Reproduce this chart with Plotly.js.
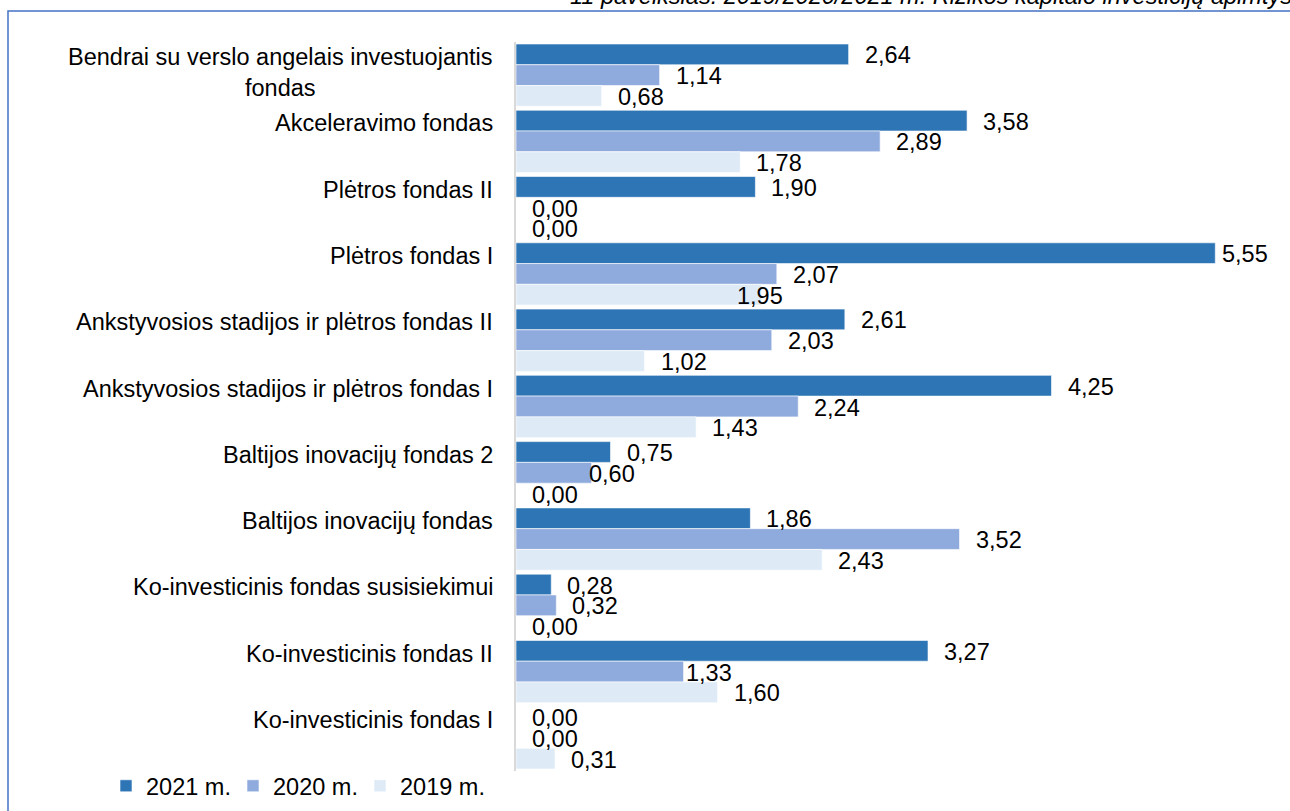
<!DOCTYPE html>
<html>
<head>
<meta charset="utf-8">
<script src="https://cdn.plot.ly/plotly-3.0.1.min.js"></script>
<style>
  html, body { margin: 0; padding: 0; background: #ffffff; }
  #chart { width: 1290px; height: 811px; }
</style>
</head>
<body>
<div id="chart"></div>
<script>
// ---- data ----
const categories = [
  "Bendrai su verslo angelais investuojantis fondas",
  "Akceleravimo fondas",
  "Plėtros fondas II",
  "Plėtros fondas I",
  "Ankstyvosios stadijos ir plėtros fondas II",
  "Ankstyvosios stadijos ir plėtros fondas I",
  "Baltijos inovacijų fondas 2",
  "Baltijos inovacijų fondas",
  "Ko-investicinis fondas susisiekimui",
  "Ko-investicinis fondas II",
  "Ko-investicinis fondas I"
];
const categoryLabels = [
  "Bendrai su verslo angelais investuojantis<br>fondas",
  "Akceleravimo fondas",
  "Plėtros fondas II",
  "Plėtros fondas I",
  "Ankstyvosios stadijos ir plėtros fondas II",
  "Ankstyvosios stadijos ir plėtros fondas I",
  "Baltijos inovacijų fondas 2",
  "Baltijos inovacijų fondas",
  "Ko-investicinis fondas susisiekimui",
  "Ko-investicinis fondas II",
  "Ko-investicinis fondas I"
];
const values2021 = [2.64, 3.58, 1.90, 5.55, 2.61, 4.25, 0.75, 1.86, 0.28, 3.27, 0.00];
const values2020 = [1.14, 2.89, 0.00, 2.07, 2.03, 2.24, 0.60, 3.52, 0.32, 1.33, 0.00];
const values2019 = [0.68, 1.78, 0.00, 1.95, 1.02, 1.43, 0.00, 2.43, 0.00, 1.60, 0.31];
const seriesNames = ["2021 m.", "2020 m.", "2019 m."];
const figureTitle = "11 paveikslas. 2019/2020/2021 m. Rizikos kapitalo investicijų apimtys";

// ---- styling / layout constants ----
const W = 1290, H = 811;
const M = { l: 516, r: 18, t: 42, b: 40 };
const plotW = W - M.l - M.r;
const plotH = H - M.t - M.b;
const px = (x) => (x - M.l) / plotW;          // pixel x -> paper x
const py = (y) => (H - M.b - y) / plotH;      // pixel y -> paper y
const colors = ["#2E75B6", "#8FAADC", "#DEEBF7"];
const FONT = "Liberation Sans, Arial, sans-serif";
const FS = 23.5;
const bargap = 0.06;
// manual label nudges (px) as placed in the original: "series-category"
const labelNudge = { "0-3": -9, "1-6": -19, "2-3": -41, "1-9": -14 };

const series = [values2021, values2020, values2019];
const idx = categories.map((_, i) => i);

const traces = series.map((vals, k) => ({
  type: "bar",
  orientation: "h",
  name: seriesNames[k],
  x: vals,
  y: idx,
  marker: { color: colors[k], line: { color: "#ffffff", width: 0.6 } },
  hoverinfo: "skip"
}));

const fmt = (v) => v.toFixed(2).replace(".", ",");
const barW = (1 - bargap) / series.length;

const annotations = [];
// category labels
categoryLabels.forEach((lab, i) => {
  annotations.push({
    xref: "paper", yref: "y",
    x: px(495), y: i,
    xanchor: "right", yanchor: "top",
    yshift: 33,
    text: lab, align: "center", showarrow: false,
    font: { family: FONT, size: FS, color: "#000000" }
  });
});
// value labels
series.forEach((vals, k) => {
  vals.forEach((v, i) => {
    annotations.push({
      xref: "x", yref: "y",
      x: v, y: i + (k - 1) * barW,
      xanchor: "left", yanchor: "middle",
      xshift: 14 + (labelNudge[k + "-" + i] || 0), yshift: -1,
      text: fmt(v), showarrow: false,
      font: { family: FONT, size: FS, color: "#000000" }
    });
  });
});
// cut-off figure caption at the top
annotations.push({
  xref: "paper", yref: "paper",
  x: px(568), y: py(11.5),
  xanchor: "left", yanchor: "bottom",
  text: figureTitle, showarrow: false,
  font: { family: FONT, size: FS, color: "#000000", style: "italic" }
});

const layout = {
  width: W, height: H,
  margin: Object.assign({ autoexpand: false }, M),
  paper_bgcolor: "#ffffff",
  plot_bgcolor: "#ffffff",
  barmode: "group",
  bargap: bargap,
  bargroupgap: 0,
  showlegend: true,
  legend: {
    orientation: "h",
    xref: "container", yref: "container",
    x: 106 / W, y: (H - 786) / H,
    xanchor: "left", yanchor: "middle",
    font: { family: FONT, size: FS, color: "#000000" },
    entrywidth: 82, entrywidthmode: "pixels",
    bgcolor: "rgba(0,0,0,0)"
  },
  xaxis: { range: [0, 6], visible: false, fixedrange: true },
  yaxis: {
    type: "linear",
    range: [categories.length - 0.5, -0.5],
    showticklabels: false, ticks: "",
    showgrid: false, zeroline: false,
    showline: true, linecolor: "#D9D9D9", linewidth: 2,
    fixedrange: true
  },
  annotations: annotations,
  shapes: [{
    type: "rect", xref: "paper", yref: "paper",
    x0: px(8), x1: px(1300), y0: py(830), y1: py(11),
    line: { color: "#4472C4", width: 1.5 },
    fillcolor: "rgba(0,0,0,0)", layer: "below"
  }]
};

Plotly.newPlot("chart", traces, layout, { staticPlot: true, displayModeBar: false });
</script>
</body>
</html>
